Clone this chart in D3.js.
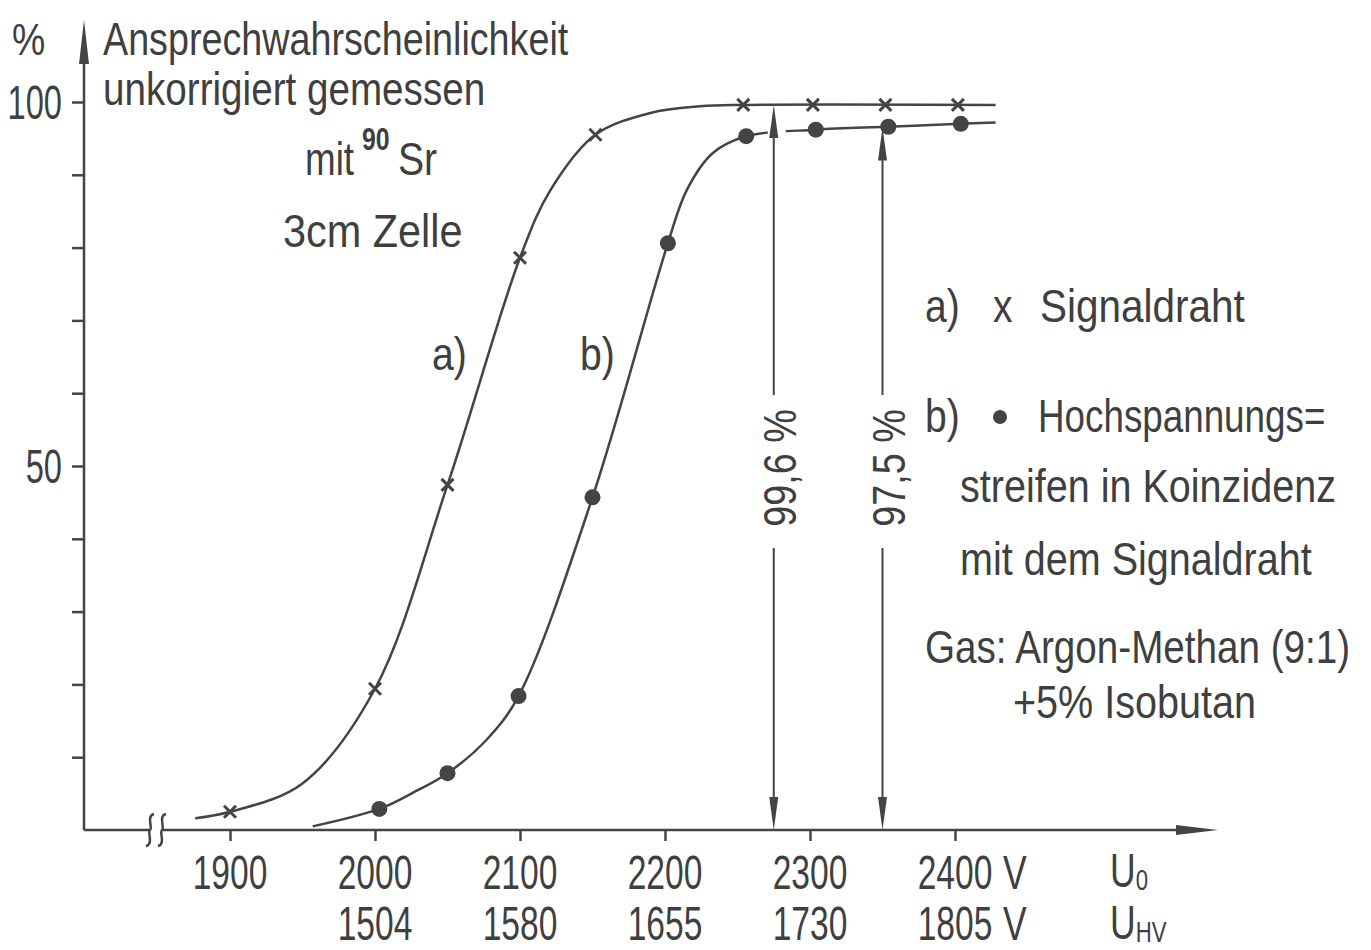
<!DOCTYPE html>
<html>
<head>
<meta charset="utf-8">
<script src="https://cdn.jsdelivr.net/npm/d3@7"></script>
<style>
  body { margin: 0; background: #fff; }
  svg text { font-family: "Liberation Sans", Arial, sans-serif; fill: #3f3f3f; }
</style>
</head>
<body>
<div id="chart"></div>
<script>
"use strict";

// === DATA ===
const voltsU0 = [1900, 2000, 2100, 2200, 2300, 2400];
const voltsHV = ["", "1504", "1580", "1655", "1730", "1805"];
const yTicks = [10, 20, 30, 40, 50, 60, 70, 80, 90, 100];
const yLabels = [50, 100];

// a) x Signaldraht - measured points
const pointsA = [
  { u: 1900, p: 2.5 }, { u: 2000, p: 19.4 }, { u: 2050, p: 47.4 },
  { u: 2100, p: 78.6 }, { u: 2152, p: 95.5 }, { u: 2254, p: 99.6 },
  { u: 2302, p: 99.6 }, { u: 2352, p: 99.6 }, { u: 2402, p: 99.6 }
];
// b) • Hochspannungsstreifen - measured points
const pointsB = [
  { u: 2003, p: 2.9 }, { u: 2050, p: 7.8 }, { u: 2099, p: 18.4 },
  { u: 2150, p: 45.7 }, { u: 2202, p: 80.6 }, { u: 2256, p: 95.3 },
  { u: 2304, p: 96.2 }, { u: 2354, p: 96.6 }, { u: 2404, p: 97.0 }
];

// hand-drawn fit curves (knots)
const curveA = [
  [1876, 1.6], [1900, 2.5], [1950, 6.4], [2000, 19.4],
  [2050, 47.4], [2100, 78.6], [2121, 87.9], [2152, 95.5], [2190, 98.5],
  [2224, 99.4], [2254, 99.6], [2428, 99.6]
];
const curveB = [
  [1957, 0.5], [2003, 2.9], [2026, 5.1], [2050, 7.8], [2077, 12.4],
  [2099, 18.4], [2150, 45.7], [2202, 80.6], [2215, 87.9], [2233, 93.0],
  [2256, 95.3], [2304, 96.2], [2354, 96.6], [2404, 97.0], [2428, 97.2]
];

// marked voltages with the efficiency they stand for
const markers = [
  { u: 2275, top: 99.6, label: "99,6 %" },
  { u: 2350, top: 96.5, label: "97,5 %" }
];

// === SVG SETUP ===
const W = 1371, H = 950;
const ink = "#444";
const x0 = 84, yBase = 830;

const svg = d3.select("#chart").append("svg")
  .attr("width", W).attr("height", H);

const x = d3.scaleLinear().domain([1900, 2400]).range([230, 955]);
const y = d3.scaleLinear().domain([0, 100]).range([yBase, 102]);

// condensed lettering: squeeze the glyphs horizontally
const txt = (tx, ty, s, size = 46, anchor = "start", sx = 0.85) =>
  svg.append("text")
    .attr("transform", `translate(${tx},${ty}) scale(${sx},1)`)
    .attr("font-size", size).attr("text-anchor", anchor).text(s);

// === AXES ===
// y axis line + arrow
svg.append("line")
  .attr("x1", x0).attr("y1", yBase).attr("x2", x0).attr("y2", 60)
  .attr("stroke", ink).attr("stroke-width", 2.5);
svg.append("path")
  .attr("d", `M${x0 - 5},64 L${x0},20 L${x0 + 5},64 Z`)
  .attr("fill", ink);

const yAxis = svg.append("g")
  .attr("transform", `translate(${x0},0)`)
  .call(d3.axisLeft(y).tickValues(yTicks).tickSize(12).tickFormat(""));
yAxis.select(".domain").remove();
yAxis.selectAll("line").attr("stroke", ink).attr("stroke-width", 2.5);
yLabels.forEach(v => txt(x0 - 22, y(v) + 17, v, 48, "end", 0.68));

// x axis line with break + arrow
svg.append("line")
  .attr("x1", x0).attr("y1", yBase).attr("x2", 1180).attr("y2", yBase)
  .attr("stroke", ink).attr("stroke-width", 2.5);
svg.append("path")
  .attr("d", `M1176,${yBase - 5} L1218,${yBase} L1176,${yBase + 5} Z`)
  .attr("fill", ink);
svg.append("rect")
  .attr("x", 149).attr("y", yBase - 3).attr("width", 14).attr("height", 6)
  .attr("fill", "#fff");
[150, 162].forEach(bx => {
  svg.append("path")
    .attr("d", `M${bx + 4},${yBase - 16} C${bx - 4},${yBase - 14} ${bx + 3},${yBase - 2} ${bx},${yBase}
                C${bx - 3},${yBase + 2} ${bx + 4},${yBase + 14} ${bx - 4},${yBase + 16}`)
    .attr("fill", "none").attr("stroke", ink).attr("stroke-width", 2.5);
});

const xAxis = svg.append("g")
  .attr("transform", `translate(0,${yBase})`)
  .call(d3.axisBottom(x).tickValues(voltsU0).tickSize(11).tickFormat(""));
xAxis.select(".domain").remove();
xAxis.selectAll("line").attr("stroke", ink).attr("stroke-width", 2.5);

// two rows of tick labels: U0 and U_HV
voltsU0.forEach((v, i) => {
  txt(x(v), 889, v, 48, "middle", 0.7);
  if (voltsHV[i]) txt(x(v), 940, voltsHV[i], 48, "middle", 0.7);
});
[889, 940].forEach(by => txt(x(2400) + 48, by, "V", 48, "start", 0.74));

const u0 = txt(1110, 887, "", 48, "start", 0.74);
u0.append("tspan").text("U");
u0.append("tspan").attr("font-size", 30).attr("dy", 3).text("0");
const uhv = txt(1110, 939, "", 48, "start", 0.74);
uhv.append("tspan").text("U");
uhv.append("tspan").attr("font-size", 30).attr("dy", 3).text("HV");

// === CURVES ===
const line = d3.line()
  .x(d => x(d[0])).y(d => y(d[1]))
  .curve(d3.curveCatmullRom.alpha(0.5));

svg.append("path").datum(curveA)
  .attr("d", line).attr("fill", "none")
  .attr("stroke", ink).attr("stroke-width", 2.5);
svg.append("path").datum(curveB)
  .attr("d", line).attr("fill", "none")
  .attr("stroke", ink).attr("stroke-width", 2.5);

// === MARKED VOLTAGES (double arrows) ===
markers.forEach(m => {
  const mx = x(m.u), tip = y(m.top);
  // small gap where the arrow crosses curve b
  if (m.top > 99) {
    svg.append("rect")
      .attr("x", mx - 6).attr("y", tip + 14).attr("width", 18).attr("height", 16)
      .attr("fill", "#fff");
  }
  svg.append("line")
    .attr("x1", mx).attr("x2", mx).attr("y1", tip + 20).attr("y2", 395)
    .attr("stroke", ink).attr("stroke-width", 2);
  svg.append("line")
    .attr("x1", mx).attr("x2", mx).attr("y1", 548).attr("y2", yBase - 20)
    .attr("stroke", ink).attr("stroke-width", 2);
  svg.append("path")
    .attr("d", `M${mx - 4.5},${tip + 33} L${mx},${tip} L${mx + 4.5},${tip + 33} Z`)
    .attr("fill", ink);
  svg.append("path")
    .attr("d", `M${mx - 4.5},${yBase - 33} L${mx},${yBase} L${mx + 4.5},${yBase - 33} Z`)
    .attr("fill", ink);
  svg.append("text")
    .attr("transform", `translate(${mx + 22},468) rotate(-90) scale(0.82,1)`)
    .attr("text-anchor", "middle").attr("font-size", 46)
    .text(m.label);
});

// === POINTS ===
svg.selectAll(".ptA").data(pointsA).enter()
  .append("path").attr("class", "ptA")
  .attr("d", d => {
    const cx = x(d.u), cy = y(d.p), s = 6;
    return `M${cx - s},${cy - s}L${cx + s},${cy + s}M${cx - s},${cy + s}L${cx + s},${cy - s}`;
  })
  .attr("stroke", ink).attr("stroke-width", 3);

svg.selectAll(".ptB").data(pointsB).enter()
  .append("circle").attr("class", "ptB")
  .attr("cx", d => x(d.u)).attr("cy", d => y(d.p)).attr("r", 8)
  .attr("fill", ink);

// === LABELS ===
txt(12, 55, "%", 44);
txt(103, 55, "Ansprechwahrscheinlichkeit", 46, "start", 0.82);
txt(103, 105, "unkorrigiert gemessen", 46, "start", 0.84);

txt(305, 175, "mit", 46, "start", 0.8);
txt(362, 150, "90", 31, "start", 0.8).attr("font-weight", "bold");
txt(398, 175, "Sr");
txt(283, 247, "3cm Zelle", 46, "start", 0.9);
txt(432, 370, "a)");
txt(580, 370, "b)");

// legend
txt(925, 322, "a)");
txt(993, 322, "x");
txt(1040, 322, "Signaldraht", 46, "start", 0.88);
txt(925, 432, "b)");
svg.append("circle").attr("cx", 1000).attr("cy", 417).attr("r", 7).attr("fill", ink);
txt(1038, 432, "Hochspannungs=", 46, "start", 0.8);
txt(960, 502, "streifen in Koinzidenz", 46, "start", 0.86);
txt(960, 575, "mit dem Signaldraht", 46, "start", 0.86);
txt(925, 663, "Gas: Argon-Methan (9:1)", 46, "start", 0.84);
txt(1013, 718, "+5% Isobutan", 46, "start", 0.86);
</script>
</body>
</html>
